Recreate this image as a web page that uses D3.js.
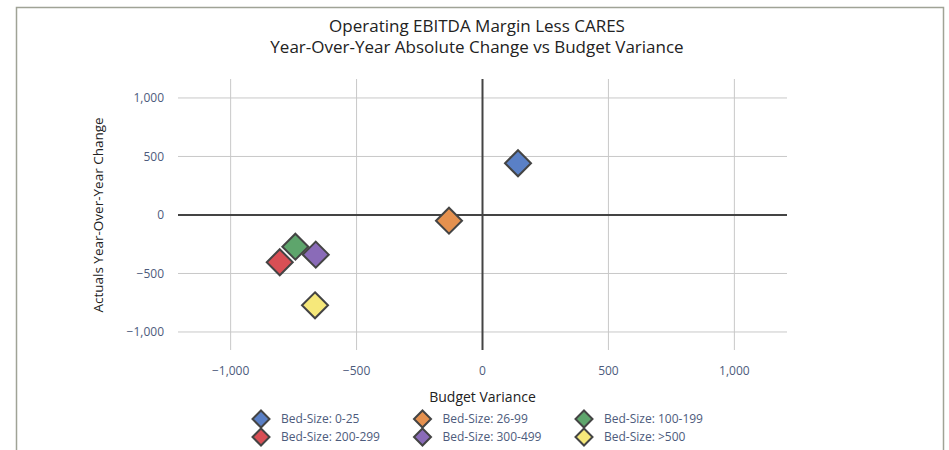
<!DOCTYPE html>
<html>
<head>
<meta charset="utf-8">
<script src="https://cdn.jsdelivr.net/npm/d3@7"></script>
<style>
  body { margin: 0; background: #fff; }
  svg text { font-family: "Open Sans", sans-serif; }
</style>
</head>
<body>
<div id="chart"></div>
<script>
const width = 949;
const height = 450;

// data
const categories = ['Bed-Size: 0-25', 'Bed-Size: 26-99', 'Bed-Size: 100-199',
  'Bed-Size: 200-299', 'Bed-Size: 300-499', 'Bed-Size: >500'];
const budgetVariance = [141, -133, -743, -805, -662, -665];
const yoyChange = [442, -49, -271, -404, -339, -772];
const colors = ['#5a80c6', '#e5914f', '#5ea56c', '#d94f55', '#8a6bb8', '#f6e87a'];
const ticks = [-1000, -500, 0, 500, 1000];

const plot = { left: 178, right: 787, top: 79, bottom: 350 };

const svg = d3.select('#chart')
  .append('svg')
  .attr('width', width)
  .attr('height', height);

// outer frame
svg.append('rect')
  .attr('x', 16.5).attr('y', 7.5)
  .attr('width', 927).attr('height', 460)
  .attr('fill', 'none')
  .attr('stroke', '#a0a396')
  .attr('stroke-width', 1.5);

const x = d3.scaleLinear().domain([-1209, 1209]).range([plot.left, plot.right]);
const y = d3.scaleLinear().domain([-1154, 1162]).range([plot.bottom, plot.top]);

const fmt = d3.format(',');
const tickColor = '#4d5b7c';

// grid
svg.selectAll('.vgrid')
  .data(ticks.filter(d => d !== 0))
  .enter().append('line')
  .attr('x1', d => x(d)).attr('x2', d => x(d))
  .attr('y1', plot.top).attr('y2', plot.bottom)
  .attr('stroke', '#c8c8c8').attr('stroke-width', 1);

svg.selectAll('.hgrid')
  .data(ticks.filter(d => d !== 0))
  .enter().append('line')
  .attr('x1', plot.left).attr('x2', plot.right)
  .attr('y1', d => y(d)).attr('y2', d => y(d))
  .attr('stroke', '#c8c8c8').attr('stroke-width', 1);

// zero lines
svg.append('line')
  .attr('x1', x(0)).attr('x2', x(0))
  .attr('y1', plot.top).attr('y2', plot.bottom)
  .attr('stroke', '#444').attr('stroke-width', 2);
svg.append('line')
  .attr('x1', plot.left).attr('x2', plot.right)
  .attr('y1', y(0)).attr('y2', y(0))
  .attr('stroke', '#444').attr('stroke-width', 2);

// tick labels
svg.selectAll('.xtick')
  .data(ticks)
  .enter().append('text')
  .attr('x', d => x(d))
  .attr('y', 375)
  .attr('text-anchor', 'middle')
  .attr('fill', tickColor)
  .style('font-size', '12px')
  .text(d => fmt(d).replace('-', '\u2212'));

svg.selectAll('.ytick')
  .data(ticks)
  .enter().append('text')
  .attr('x', 164)
  .attr('y', d => y(d))
  .attr('dy', '.35em')
  .attr('text-anchor', 'end')
  .attr('fill', tickColor)
  .style('font-size', '12px')
  .text(d => fmt(d).replace('-', '\u2212'));

// titles
svg.append('text')
  .attr('x', 477).attr('y', 32)
  .attr('text-anchor', 'middle')
  .attr('fill', '#222')
  .style('font-size', '17px')
  .text('Operating EBITDA Margin Less CARES');
svg.append('text')
  .attr('x', 477).attr('y', 53)
  .attr('text-anchor', 'middle')
  .attr('fill', '#222')
  .style('font-size', '17px')
  .text('Year-Over-Year Absolute Change vs Budget Variance');

svg.append('text')
  .attr('x', x(0)).attr('y', 402)
  .attr('text-anchor', 'middle')
  .attr('fill', '#222')
  .style('font-size', '14px')
  .text('Budget Variance');

svg.append('text')
  .attr('transform', `translate(103, ${y(0)}) rotate(-90)`)
  .attr('text-anchor', 'middle')
  .attr('fill', '#222')
  .style('font-size', '13.5px')
  .text('Actuals Year-Over-Year Change');

function diamond(r) {
  return `M0,${-r}L${r},0L0,${r}L${-r},0Z`;
}

// points
svg.selectAll('.pt')
  .data(categories)
  .enter().append('path')
  .attr('d', diamond(13))
  .attr('transform', (d, i) => `translate(${x(budgetVariance[i])},${y(yoyChange[i])})`)
  .attr('fill', (d, i) => colors[i])
  .attr('stroke', '#444')
  .attr('stroke-width', 2);

// legend
const legend = svg.selectAll('.leg')
  .data(categories)
  .enter().append('g')
  .attr('transform', (d, i) => `translate(${261 + (i % 3) * 161.5},${419 + Math.floor(i / 3) * 18})`);

legend.append('path')
  .attr('d', diamond(8.5))
  .attr('fill', (d, i) => colors[i])
  .attr('stroke', '#444')
  .attr('stroke-width', 2);

legend.append('text')
  .attr('x', 20)
  .attr('dy', '.35em')
  .attr('fill', tickColor)
  .style('font-size', '12px')
  .text(d => d);
</script>
</body>
</html>
